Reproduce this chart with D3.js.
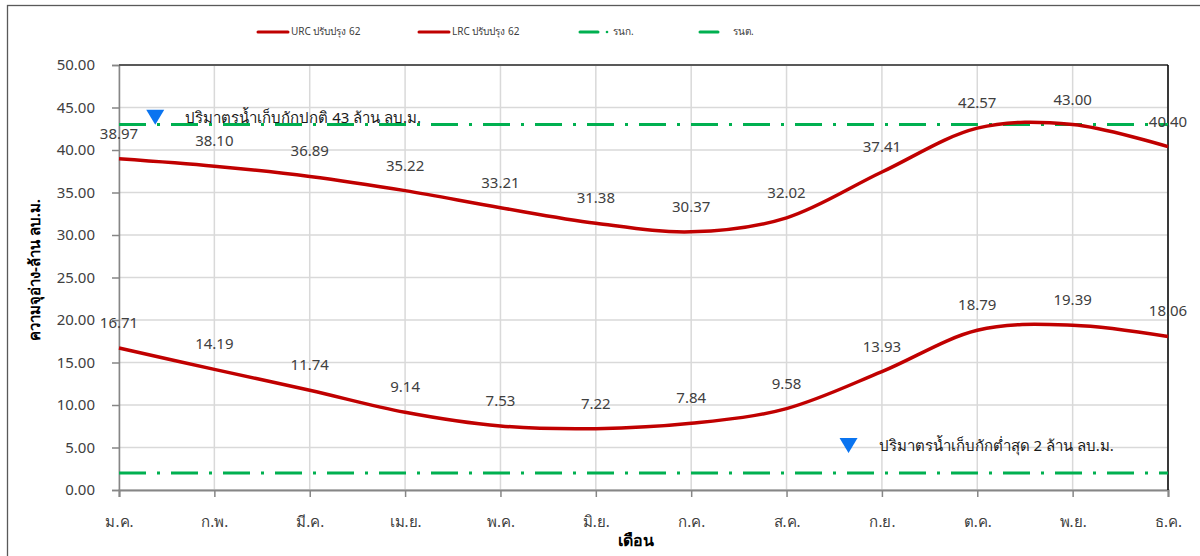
<!DOCTYPE html>
<html>
<head>
<meta charset="utf-8">
<script src="https://cdn.jsdelivr.net/npm/d3@7"></script>
<style>
  body { margin: 0; background: #fff; }
  svg text { font-family: Tahoma, "Noto Sans", "DejaVu Sans", sans-serif; }
</style>
</head>
<body>
<div id="chart"></div>
<script>
// month labels
var months = ["ม.ค.", "ก.พ.", "มี.ค.", "เม.ย.", "พ.ค.", "มิ.ย.", "ก.ค.", "ส.ค.", "ก.ย.", "ต.ค.", "พ.ย.", "ธ.ค."];
// upper rule curve / lower rule curve
var urc = [38.97, 38.10, 36.89, 35.22, 33.21, 31.38, 30.37, 32.02, 37.41, 42.57, 43.00, 40.40];
var lrc = [16.71, 14.19, 11.74, 9.14, 7.53, 7.22, 7.84, 9.58, 13.93, 18.79, 19.39, 18.06];
// normal / minimum storage
var rnk = [43, 43, 43, 43, 43, 43, 43, 43, 43, 43, 43, 43];
var rnt = [2, 2, 2, 2, 2, 2, 2, 2, 2, 2, 2, 2];
var yTicks = [0, 5, 10, 15, 20, 25, 30, 35, 40, 45, 50];
var seriesNames = ["URC ปรับปรุง 62", "LRC ปรับปรุง 62", "รนก.", "รนต."];
// annotation notes: position in month index / value units
var notes = [
  {i: 0.38, v: 43.9, label: "ปริมาตรน้ำเก็บกักปกติ  43 ล้าน ลบ.ม."},
  {i: 7.65, v: 5.3, label: "ปริมาตรน้ำเก็บกักต่ำสุด 2 ล้าน ลบ.ม."}
];

var W = 1200, H = 556;
var margin = {top: 65, right: 32, bottom: 66, left: 119};
var width = W - margin.left - margin.right,
    height = H - margin.top - margin.bottom;

var svg = d3.select("#chart").append("svg")
    .attr("width", W)
    .attr("height", H);

// outer chart border
svg.append("rect")
    .attr("x", 7.5).attr("y", 5.5)
    .attr("width", 1200).attr("height", 600)
    .attr("fill", "none")
    .attr("stroke", "#595959")
    .attr("stroke-width", 1.3);

var g = svg.append("g")
    .attr("transform", "translate(" + margin.left + "," + margin.top + ")");

var x = d3.scalePoint().domain(months).range([0, width]);
var xi = d3.scaleLinear().domain([0, months.length - 1]).range([0, width]);
var y = d3.scaleLinear().domain([0, 50]).range([height, 0]);

// gridlines
g.append("g")
  .selectAll("line.h")
  .data(yTicks)
  .enter().append("line")
    .attr("x1", 0).attr("x2", width)
    .attr("y1", function(d) { return y(d); })
    .attr("y2", function(d) { return y(d); })
    .attr("stroke", "#d9d9d9").attr("stroke-width", 1.5);

g.append("g")
  .selectAll("line.v")
  .data(months)
  .enter().append("line")
    .attr("x1", function(d) { return x(d); })
    .attr("x2", function(d) { return x(d); })
    .attr("y1", 0).attr("y2", height)
    .attr("stroke", "#d9d9d9").attr("stroke-width", 1.5);

// y axis
var yAxis = g.append("g")
    .call(d3.axisLeft(y).tickValues(yTicks).tickSize(7).tickPadding(17)
      .tickFormat(d3.format(".2f")));
yAxis.select(".domain").attr("stroke", "#868686").attr("stroke-width", 1.5);
yAxis.selectAll(".tick line").attr("stroke", "#868686").attr("stroke-width", 1.5);
yAxis.selectAll(".tick text")
    .attr("fill", "#404040")
    .style("font-size", "15px");

// x axis
var xAxis = g.append("g")
    .attr("transform", "translate(0," + height + ")")
    .call(d3.axisBottom(x).tickSize(7).tickPadding(19));
xAxis.select(".domain").attr("stroke", "#868686").attr("stroke-width", 2);
xAxis.selectAll(".tick line").attr("stroke", "#868686").attr("stroke-width", 1.5);
xAxis.selectAll(".tick text")
    .attr("fill", "#404040")
    .style("font-size", "15px");

// top and right edges of the plot area
g.append("line")
    .attr("x1", 0).attr("x2", width).attr("y1", 0).attr("y2", 0)
    .attr("stroke", "#595959").attr("stroke-width", 2);
g.append("line")
    .attr("x1", width).attr("x2", width).attr("y1", 0).attr("y2", height)
    .attr("stroke", "#000").attr("stroke-width", 1.5);

// green reference lines
var flat = d3.line()
    .x(function(d, i) { return x(months[i]); })
    .y(function(d) { return y(d); });

[rnk, rnt].forEach(function(s) {
  g.append("path")
      .datum(s)
      .attr("d", flat)
      .attr("fill", "none")
      .attr("stroke", "#00b050")
      .attr("stroke-width", 3)
      .attr("stroke-dasharray", "27,11,3,11");
});

// red smoothed curves
var smooth = d3.line()
    .x(function(d, i) { return x(months[i]); })
    .y(function(d) { return y(d); })
    .curve(d3.curveCatmullRom.alpha(0));

[urc, lrc].forEach(function(s) {
  g.append("path")
      .datum(s)
      .attr("d", smooth)
      .attr("fill", "none")
      .attr("stroke", "#c00000")
      .attr("stroke-width", 3.5);

  g.append("g")
    .selectAll("text")
    .data(s)
    .enter().append("text")
      .attr("x", function(d, i) { return x(months[i]); })
      .attr("y", function(d) { return y(d) - 20; })
      .attr("text-anchor", "middle")
      .attr("fill", "#404040")
      .style("font-size", "15px")
      .text(function(d) { return d.toFixed(2); });
});

// notes with blue triangles
notes.forEach(function(n) {
  var cx = xi(n.i), cy = y(n.v);
  g.append("path")
      .attr("d", "M" + (cx - 9) + "," + (cy - 7) + "L" + (cx + 9) + "," + (cy - 7) + "L" + cx + "," + (cy + 8) + "Z")
      .attr("fill", "#0a74f0");
  g.append("text")
      .attr("x", cx + 30)
      .attr("y", cy + 6)
      .attr("fill", "#1a1a1a")
      .style("font-size", "15px")
      .text(n.label);
});

// axis titles
svg.append("text")
    .attr("transform", "translate(40,270) rotate(-90)")
    .attr("text-anchor", "middle")
    .attr("font-weight", "bold")
    .style("font-size", "15px")
    .attr("fill", "#000")
    .text("ความจุอ่าง-ล้าน ลบ.ม.");

svg.append("text")
    .attr("x", 636).attr("y", 546)
    .attr("text-anchor", "middle")
    .attr("font-weight", "bold")
    .style("font-size", "16px")
    .attr("fill", "#000")
    .text("เดือน");

// legend
var legend = [
  {x: 258, len: 30, color: "#c00000", dot: false},
  {x: 419, len: 30, color: "#c00000", dot: false},
  {x: 580, len: 18, color: "#00b050", dot: true},
  {x: 700, len: 18, color: "#00b050", dot: false}
];
var lg = svg.append("g");
legend.forEach(function(l, i) {
  lg.append("line")
      .attr("x1", l.x).attr("x2", l.x + l.len)
      .attr("y1", 32).attr("y2", 32)
      .attr("stroke", l.color)
      .attr("stroke-width", 3)
      .attr("stroke-linecap", "round");
  if (l.dot) {
    lg.append("circle").attr("cx", l.x + 27).attr("cy", 32).attr("r", 1.3).attr("fill", l.color);
  }
  lg.append("text")
      .attr("x", l.x + 33)
      .attr("y", 35)
      .attr("fill", "#404040")
      .style("font-size", "10px")
      .text(seriesNames[i]);
});
</script>
</body>
</html>
